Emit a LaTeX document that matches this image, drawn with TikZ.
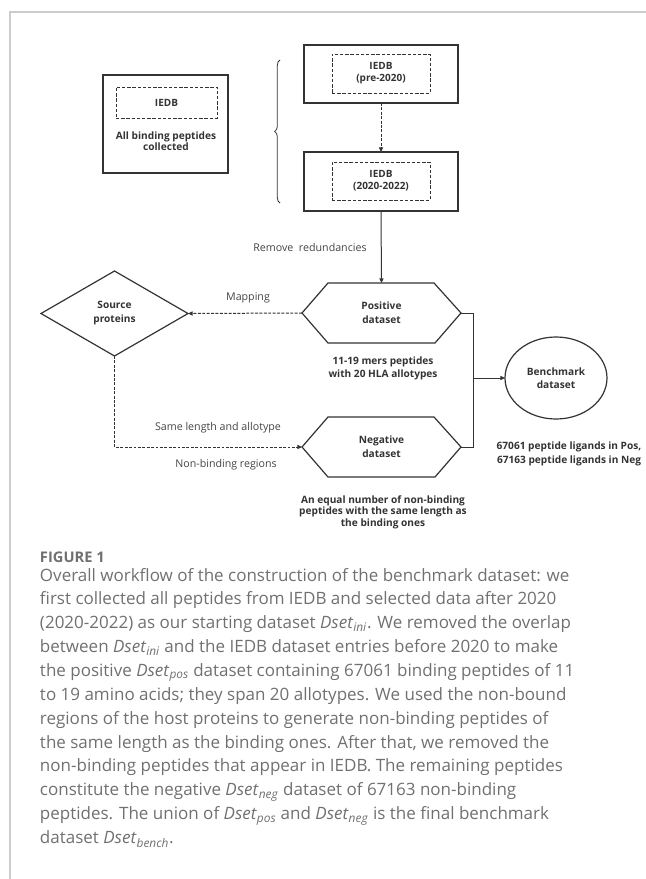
\documentclass[tikz,border=0pt]{standalone}
\usepackage{fontspec}
\setmainfont{Open Sans}
\usetikzlibrary{arrows.meta,shapes.geometric,decorations.pathreplacing,calc}
\definecolor{ink}{HTML}{333333}
\definecolor{lblc}{HTML}{444444}
\definecolor{capc}{HTML}{707070}
\definecolor{framec}{HTML}{CCCCCC}
\begin{document}
\begin{tikzpicture}[x=0.75pt,y=-0.75pt,
  every node/.style={inner sep=0pt, outer sep=0pt, text=ink},
  outerbox/.style={draw=ink, line width=1pt},
  innerbox/.style={draw=ink, line width=0.75pt, dash pattern=on 2.6pt off 1.3pt, align=center, font=\fontsize{7.5pt}{9pt}\selectfont\bfseries},
  shapeline/.style={draw=ink, line width=0.9pt},
  btxt/.style={align=center, font=\fontsize{7.6pt}{10pt}\selectfont\bfseries},
  lbl/.style={text=lblc, font=\fontsize{8pt}{9pt}\selectfont},
  conn/.style={draw=ink, line width=0.75pt},
  sconn/.style={conn, -{Triangle[length=3.4pt,width=3pt]}},
  dconn/.style={conn, dash pattern=on 2.2pt off 1.1pt, -{Triangle[length=3.4pt,width=3pt]}},
  hexnode/.style={minimum width=119.25pt, minimum height=45pt, align=center, font=\fontsize{7.6pt}{10.5pt}\selectfont\bfseries},
]
\useasboundingbox (0,0) rectangle (646,879);
% frame
\draw[framec, line width=0.8pt] (646,12) -- (10,12) -- (10,879);

% top-left box
\node[outerbox, minimum width=93.75pt, minimum height=73.5pt] (allbox) at (165.5,124) {};
\node[innerbox, minimum width=75.75pt, minimum height=23.25pt] (alliedb) at (166.5,102.5) {IEDB};
\node[btxt, font=\fontsize{7.6pt}{8.4pt}\selectfont\bfseries] (alltxt) at (166,141.5) {All binding peptides\\collected};

% brace
\coordinate (brb) at (280,203);
\coordinate (brt) at (280,60);
\draw[ink, line width=0.6pt, decorate, decoration={brace, amplitude=4pt}] (brb) -- (brt);

% top-right boxes
\node[outerbox, minimum width=115.5pt, minimum height=43.5pt] (prebox) at (381,74) {};
\node[innerbox, minimum width=73.5pt, minimum height=29.25pt] (pre) at (381,73.5) {IEDB\\(pre-2020)};
\node[outerbox, minimum width=115.5pt, minimum height=44.25pt] (midbox) at (381,181.5) {};
\node[innerbox, minimum width=73.5pt, minimum height=28.5pt] (mid) at (381,181) {IEDB\\(2020-2022)};

% positive hexagon
\node[hexnode] (pos) at (381.5,313) {Positive\\dataset};
\draw[shapeline] (pos.west) -- ($(pos.north west)+(26,0)$) -- ($(pos.north east)+(-27,0)$) -- (pos.east) -- ($(pos.south east)+(-26,0)$) -- ($(pos.south west)+(26,0)$) -- cycle;
% negative hexagon
\node[hexnode] (neg) at (381.5,447) {Negative\\dataset};
\draw[shapeline] (neg.west) -- ($(neg.north west)+(26,0)$) -- ($(neg.north east)+(-27,0)$) -- (neg.east) -- ($(neg.south east)+(-26,0)$) -- ($(neg.south west)+(26,0)$) -- cycle;
% diamond
\node[minimum width=110.25pt, minimum height=63.75pt, align=center, font=\fontsize{7.6pt}{10.5pt}\selectfont\bfseries] (src) at (114.5,313.5) {Source\\proteins};
\draw[shapeline] (src.west) -- (src.north) -- (src.east) -- (src.south) -- cycle;
% ellipse
\node[ellipse, draw=ink, line width=0.9pt, minimum width=76.5pt, minimum height=61.5pt, align=center, font=\fontsize{7.6pt}{10pt}\selectfont\bfseries] (bench) at (556,378) {Benchmark\\dataset};

% connectors
\draw[dconn] (prebox.south) -- (midbox.north);
\draw[sconn] (midbox.south) -- (pos.north);
\draw[dconn] (pos.west) -- (src.east);
\draw[dconn] (src.south) |- (neg.west);
\coordinate (jn) at (473,378);
\draw[conn] (pos.east) -- (pos.east -| jn) -- (neg.east -| jn) -- (neg.east);
\draw[sconn] (jn) -- (bench);

% labels
\node[lbl] (lremove) at (310,247) {Remove~ redundancies};
\node[lbl] (lmap) at (248,298) {Mapping};
\node[lbl] (lsame) at (218,428) {Same length and allotype};
\node[lbl] (lnonb) at (226,465) {Non-binding regions};
\node[btxt, font=\fontsize{7.6pt}{9.75pt}\selectfont\bfseries] (posdesc) at (383,368.5) {11-19 mers peptides\\with 20 HLA allotypes};
\node[btxt, font=\fontsize{7.6pt}{8.6pt}\selectfont\bfseries] (negdesc) at (383,512) {An equal number of non-binding\\peptides with the same length as\\the binding ones};
\node[btxt, font=\fontsize{7.6pt}{10.5pt}\selectfont\bfseries] (benchdesc) at (569,454) {67061 peptide ligands in Pos,\\67163 peptide ligands in Neg};

% caption
\node[anchor=base west, text=capc, font=\fontsize{11pt}{13pt}\selectfont\bfseries] (fig) at (40,562) {FIGURE 1};
\node[anchor=north west, text=capc, align=left, font=\fontsize{12.75pt}{17.9pt}\selectfont] (cap) at (40,568) {Overall workflow of the construction of the benchmark dataset: we\\
first collected all peptides from IEDB and selected data after 2020\\
(2020-2022) as our starting dataset \textit{Dset}\textsubscript{\textit{ini}}. We removed the overlap\\
between \textit{Dset}\textsubscript{\textit{ini}} and the IEDB dataset entries before 2020 to make\\
the positive \textit{Dset}\textsubscript{\textit{pos}} dataset containing 67061 binding peptides of 11\\
to 19 amino acids; they span 20 allotypes. We used the non-bound\\
regions of the host proteins to generate non-binding peptides of\\
the same length as the binding ones. After that, we removed the\\
non-binding peptides that appear in IEDB. The remaining peptides\\
constitute the negative \textit{Dset}\textsubscript{\textit{neg}} dataset of 67163 non-binding\\
peptides. The union of \textit{Dset}\textsubscript{\textit{pos}} and \textit{Dset}\textsubscript{\textit{neg}} is the final benchmark\\
dataset \textit{Dset}\textsubscript{\textit{bench}}.};
\end{tikzpicture}
\end{document}
